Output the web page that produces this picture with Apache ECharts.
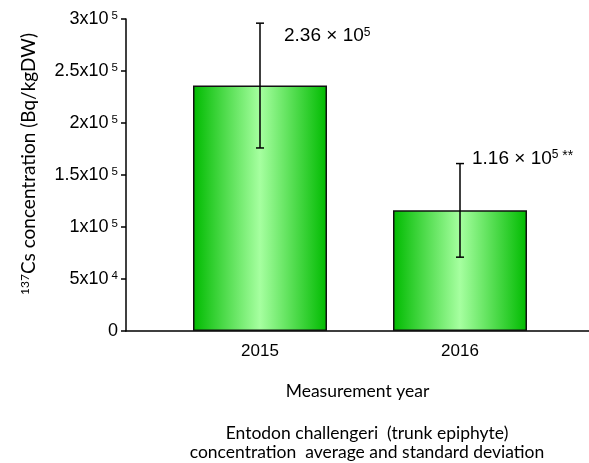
<!DOCTYPE html>
<html>
<head>
<meta charset="utf-8">
<script src="https://cdn.jsdelivr.net/npm/echarts@6/dist/echarts.min.js"></script>
<style>
  html, body { margin: 0; padding: 0; background: #fff; }
  #chart { width: 589px; height: 463px; }
</style>
</head>
<body>
<div id="chart"></div>
<script>
// Measured 137Cs concentrations of Entodon challengeri (trunk epiphyte)
const years = [2015, 2016];
const means = [236000, 116000];   // Bq/kgDW
const sds = [60000, 45000];       // standard deviation
const marks = ['', '**'];         // significance marks

// pixel offsets of the value annotations from the top of each error bar
const noteOffsets = [[24, 13], [12, -5]];

const sansJP = '"Liberation Sans", Arial, sans-serif';
const sansUI = 'Lato, "Noto Sans", sans-serif';

function tickLabel(v) {
  if (v === 0) return '{m|0}';
  const exp = Math.floor(Math.log10(v));
  const mant = v / Math.pow(10, exp);
  return '{m|' + mant + 'x10}{s|' + exp + '}';
}

function noteText(i) {
  const exp = Math.floor(Math.log10(means[i]));
  const mant = (means[i] / Math.pow(10, exp)).toFixed(2);
  let t = '{m|' + mant + ' × 10}{s|' + exp + '}';
  if (marks[i]) t += '{k| ' + marks[i] + '}';
  return t;
}

const chart = echarts.init(document.getElementById('chart'), null, { renderer: 'canvas' });

chart.setOption({
  backgroundColor: '#fff',
  animation: false,
  grid: { left: 126, right: 0, top: 19, bottom: 132, containLabel: false },
  xAxis: {
    type: 'value',
    min: 2014.33,
    max: 2016.645,
    name: 'Measurement year',
    nameLocation: 'middle',
    nameGap: 51,
    nameTextStyle: { fontFamily: sansUI, fontSize: 17.5, color: '#000' },
    splitLine: { show: false },
    axisTick: { show: false },
    axisLine: { lineStyle: { color: '#000', width: 1.5 } },
    axisLabel: {
      customValues: years,
      formatter: v => String(v),
      fontFamily: sansJP, fontSize: 17, color: '#000', margin: 12
    }
  },
  yAxis: {
    type: 'value',
    min: 0,
    max: 300000,
    interval: 50000,
    name: '{s|137}{m|Cs concentration (Bq/kgDW)}',
    nameLocation: 'middle',
    nameRotate: 90,
    nameGap: 88,
    nameTextStyle: {
      padding: [0, 0, 0, 22],
      rich: {
        m: { fontFamily: sansUI, fontSize: 19, color: '#000' },
        s: { fontFamily: sansUI, fontSize: 12, color: '#000', verticalAlign: 'top' }
      }
    },
    splitLine: { show: false },
    axisLine: { show: true, lineStyle: { color: '#000', width: 1.5 } },
    axisTick: { show: true, length: 5, lineStyle: { color: '#000', width: 1.5 } },
    axisLabel: {
      margin: 8,
      formatter: tickLabel,
      rich: {
        m: { fontFamily: sansJP, fontSize: 18, color: '#000' },
        s: { fontFamily: sansJP, fontSize: 11.5, color: '#000', verticalAlign: 'top', padding: [0, 0, 0, 3] }
      }
    }
  },
  series: [
    {
      type: 'bar',
      barWidth: 134,
      data: years.map((y, i) => [y, means[i]]),
      itemStyle: {
        color: new echarts.graphic.LinearGradient(0, 0, 1, 0, [
          { offset: 0, color: '#00bb00' },
          { offset: 0.5, color: '#a6ffa0' },
          { offset: 1, color: '#00bb00' }
        ]),
        borderColor: '#111',
        borderWidth: 1.5
      },
      z: 2
    },
    {
      // standard deviation whiskers
      type: 'custom',
      data: years.map((y, i) => [y, means[i], sds[i]]),
      renderItem: function (params, api) {
        const x = api.value(0), m = api.value(1), sd = api.value(2);
        const top = api.coord([x, m + sd]);
        const bot = api.coord([x, m - sd]);
        const cap = 4;
        const style = { stroke: '#000', lineWidth: 1.5 };
        return {
          type: 'group',
          children: [
            { type: 'line', shape: { x1: top[0], y1: top[1], x2: bot[0], y2: bot[1] }, style },
            { type: 'line', shape: { x1: top[0] - cap, y1: top[1], x2: top[0] + cap, y2: top[1] }, style },
            { type: 'line', shape: { x1: bot[0] - cap, y1: bot[1], x2: bot[0] + cap, y2: bot[1] }, style }
          ]
        };
      },
      z: 3
    },
    {
      // mean value annotations
      type: 'custom',
      data: years.map((y, i) => [y, means[i], sds[i]]),
      renderItem: function (params, api) {
        const i = params.dataIndex;
        const p = api.coord([api.value(0), api.value(1) + api.value(2)]);
        return {
          type: 'text',
          x: p[0] + noteOffsets[i][0],
          y: p[1] + noteOffsets[i][1],
          style: {
            text: noteText(i),
            align: 'left',
            verticalAlign: 'middle',
            rich: {
              m: { fontFamily: sansJP, fontSize: 19, fill: '#000' },
              s: { fontFamily: sansJP, fontSize: 12, fill: '#000', verticalAlign: 'top' },
              k: { fontFamily: sansJP, fontSize: 14, fill: '#000', verticalAlign: 'top' }
            }
          }
        };
      },
      z: 4
    }
  ],
  graphic: [
    {
      type: 'text',
      x: 367,
      y: 443,
      style: {
        text: 'Entodon challengeri  (trunk epiphyte)\nconcentration  average and standard deviation',
        fontFamily: sansUI,
        fontSize: 17.5,
        lineHeight: 19,
        fill: '#000',
        align: 'center',
        verticalAlign: 'middle'
      }
    }
  ]
});
</script>
</body>
</html>
